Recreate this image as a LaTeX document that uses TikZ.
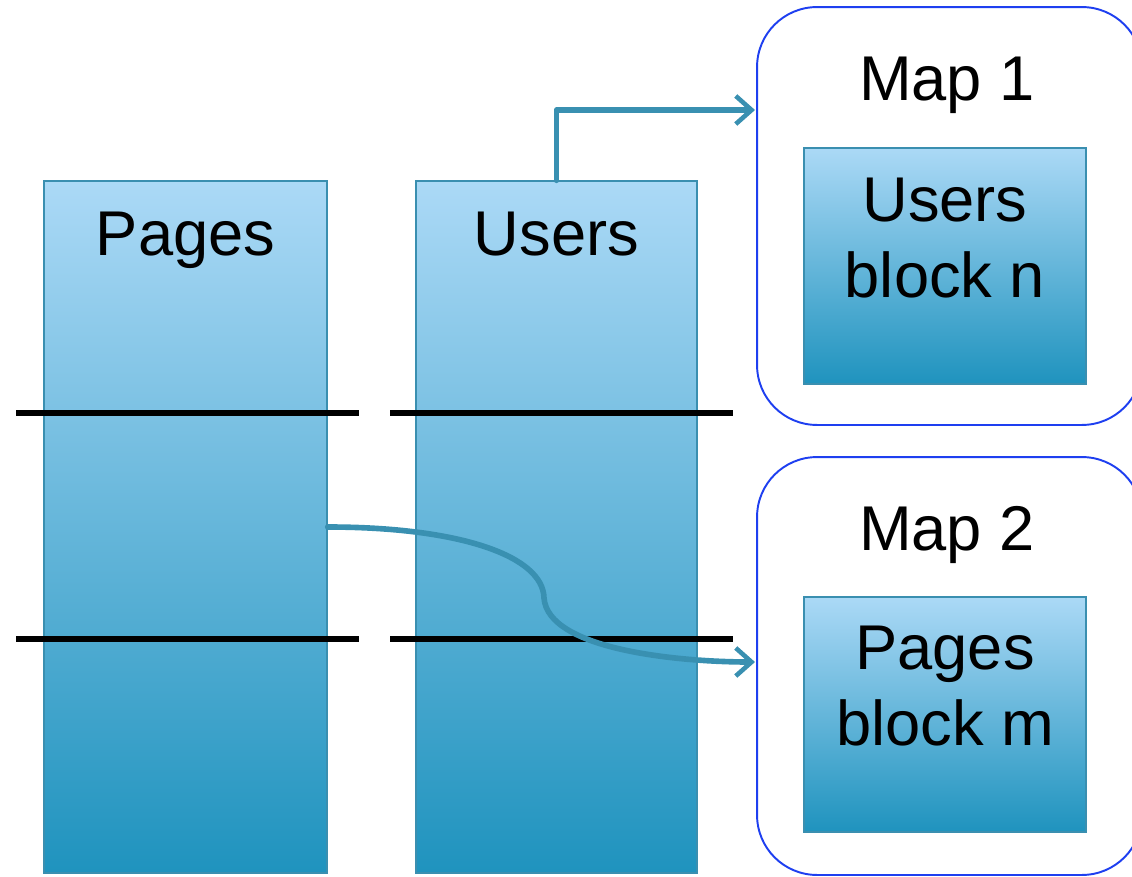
\documentclass[tikz,border=0pt]{standalone}
\usepackage{fontspec}
\setmainfont{Liberation Sans}
\usetikzlibrary{arrows.meta,shadows}
\definecolor{boxtop}{HTML}{ABD9F6}
\definecolor{boxbot}{HTML}{1F93BE}
\definecolor{boxline}{HTML}{3A8FB0}
\definecolor{flow}{HTML}{3990B1}
\definecolor{mapline}{HTML}{1E3FF0}
\tikzset{
  block/.style={draw=boxline, line width=0.8pt, top color=boxtop, bottom color=boxbot,
    drop shadow={opacity=0.25, shadow xshift=0.6pt, shadow yshift=-0.6pt}},
  mapbox/.style={draw=mapline, line width=1.1pt, rounded corners=1.2cm, fill=white},
  big/.style={font=\fontsize{36}{42.7}\selectfont, align=center, inner sep=0pt, anchor=base},
  cut/.style={line width=3.4pt, black},
  flowarrow/.style={draw=flow, line width=3.2pt, line cap=round, line join=round,
    -{Straight Barb[length=9pt, width=16pt, line width=2.6pt]}}
}
\begin{document}
\begin{tikzpicture}[x=0.02cm, y=-0.02cm]
\useasboundingbox (0,0) rectangle (1132,876);

% the two tables
\node[block, minimum width=5.66cm, minimum height=13.84cm] (pages) at (185.5,527) {};
\node[block, minimum width=5.62cm, minimum height=13.84cm] (users) at (556.5,527) {};
\node[big] (pagestxt) at (185.5,255) {Pages};
\node[big] (userstxt) at (556.5,255) {Users};

% block boundaries
\draw[cut] (16,413) -- (359,413);
\draw[cut] (390,413) -- (733,413);
\draw[cut] (16,639) -- (359,639);
\draw[cut] (390,639) -- (733,639);

% the two map tasks
\node[mapbox, minimum width=7.7cm, minimum height=8.36cm] (map1) at (949.5,216) {};
\node[mapbox, minimum width=7.7cm, minimum height=8.36cm] (map2) at (949.5,666) {};
\node[big] (map1txt) at (947,100) {Map 1};
\node[big] (map2txt) at (947,550) {Map 2};
\node[block, minimum width=5.64cm, minimum height=4.72cm] (ublock) at (945,266) {};
\node[block, minimum width=5.64cm, minimum height=4.7cm] (pblock) at (945,714.5) {};
% base of a two-line node sits on its last line
\node[big] (ublocktxt) at (945,297) {Users\\block n};
\node[big] (pblocktxt) at (945,745) {Pages\\block m};

% arrows into the maps
\coordinate (in1) at (755,110);
\coordinate (in2) at (755,662);
\draw[flowarrow] (users.north) |- (in1);
\draw[flowarrow] (pages.east) .. controls (460,527) and (543,556) .. (544,598)
  .. controls (548,650) and (680,662) .. (in2);
\end{tikzpicture}
\end{document}
